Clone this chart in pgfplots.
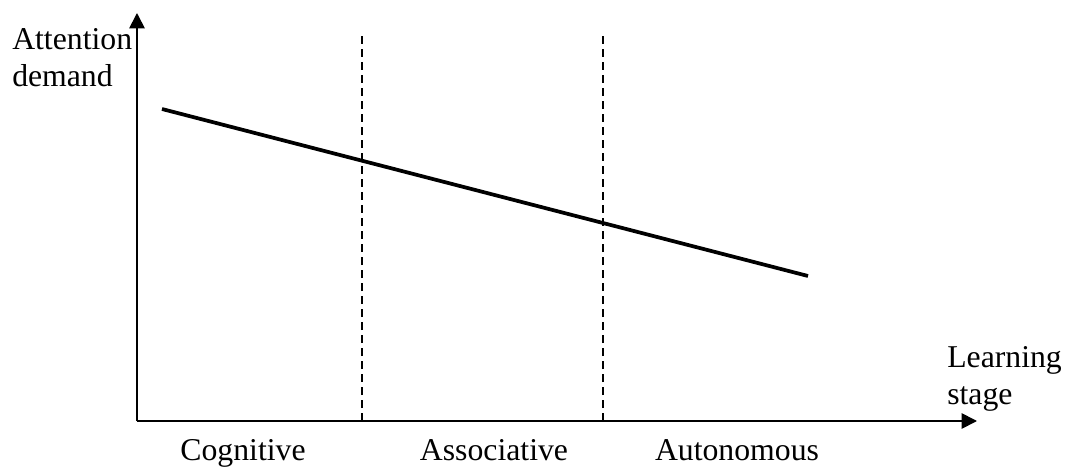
\documentclass[border=0pt]{standalone}
\usepackage{fontspec}
\setmainfont{Liberation Serif}
\usepackage{pgfplots}
\pgfplotsset{compat=1.18}
\usetikzlibrary{arrows.meta}
\begin{document}
\fontsize{23.8pt}{27.75pt}\selectfont
\begin{tikzpicture}
\begin{axis}[
  x=0.75pt, y=0.75pt,
  xmin=137, xmax=977, ymin=45, ymax=453,
  axis lines=left,
  axis line style={line width=1.3pt, -{Triangle[length=11.5pt,width=11.5pt]}},
  xtick=\empty, ytick=\empty,
  clip=false,
]
\path (axis cs:0,0) rectangle (axis cs:1067,466);
\addplot[black, line width=2.8pt] coordinates {(162,357) (808,190)};
\addplot[black, line width=0.8pt, dash pattern=on 6pt off 3.75pt] coordinates {(362,45) (362,431)};
\addplot[black, line width=0.8pt, dash pattern=on 6pt off 3.75pt] coordinates {(603,45) (603,431)};
\node[anchor=base west, inner sep=0pt] at (axis cs:12,416) {Attention};
\node[anchor=base west, inner sep=0pt] at (axis cs:12,379) {demand};
\node[anchor=base west, inner sep=0pt] at (axis cs:947,99) {Learning};
\node[anchor=base west, inner sep=0pt] at (axis cs:947,62) {stage};
\node[anchor=base, inner sep=0pt] at (axis cs:243,6) {Cognitive};
\node[anchor=base, inner sep=0pt] at (axis cs:494,6) {Associative};
\node[anchor=base, inner sep=0pt] at (axis cs:737,6) {Autonomous};
\end{axis}
\end{tikzpicture}
\end{document}
